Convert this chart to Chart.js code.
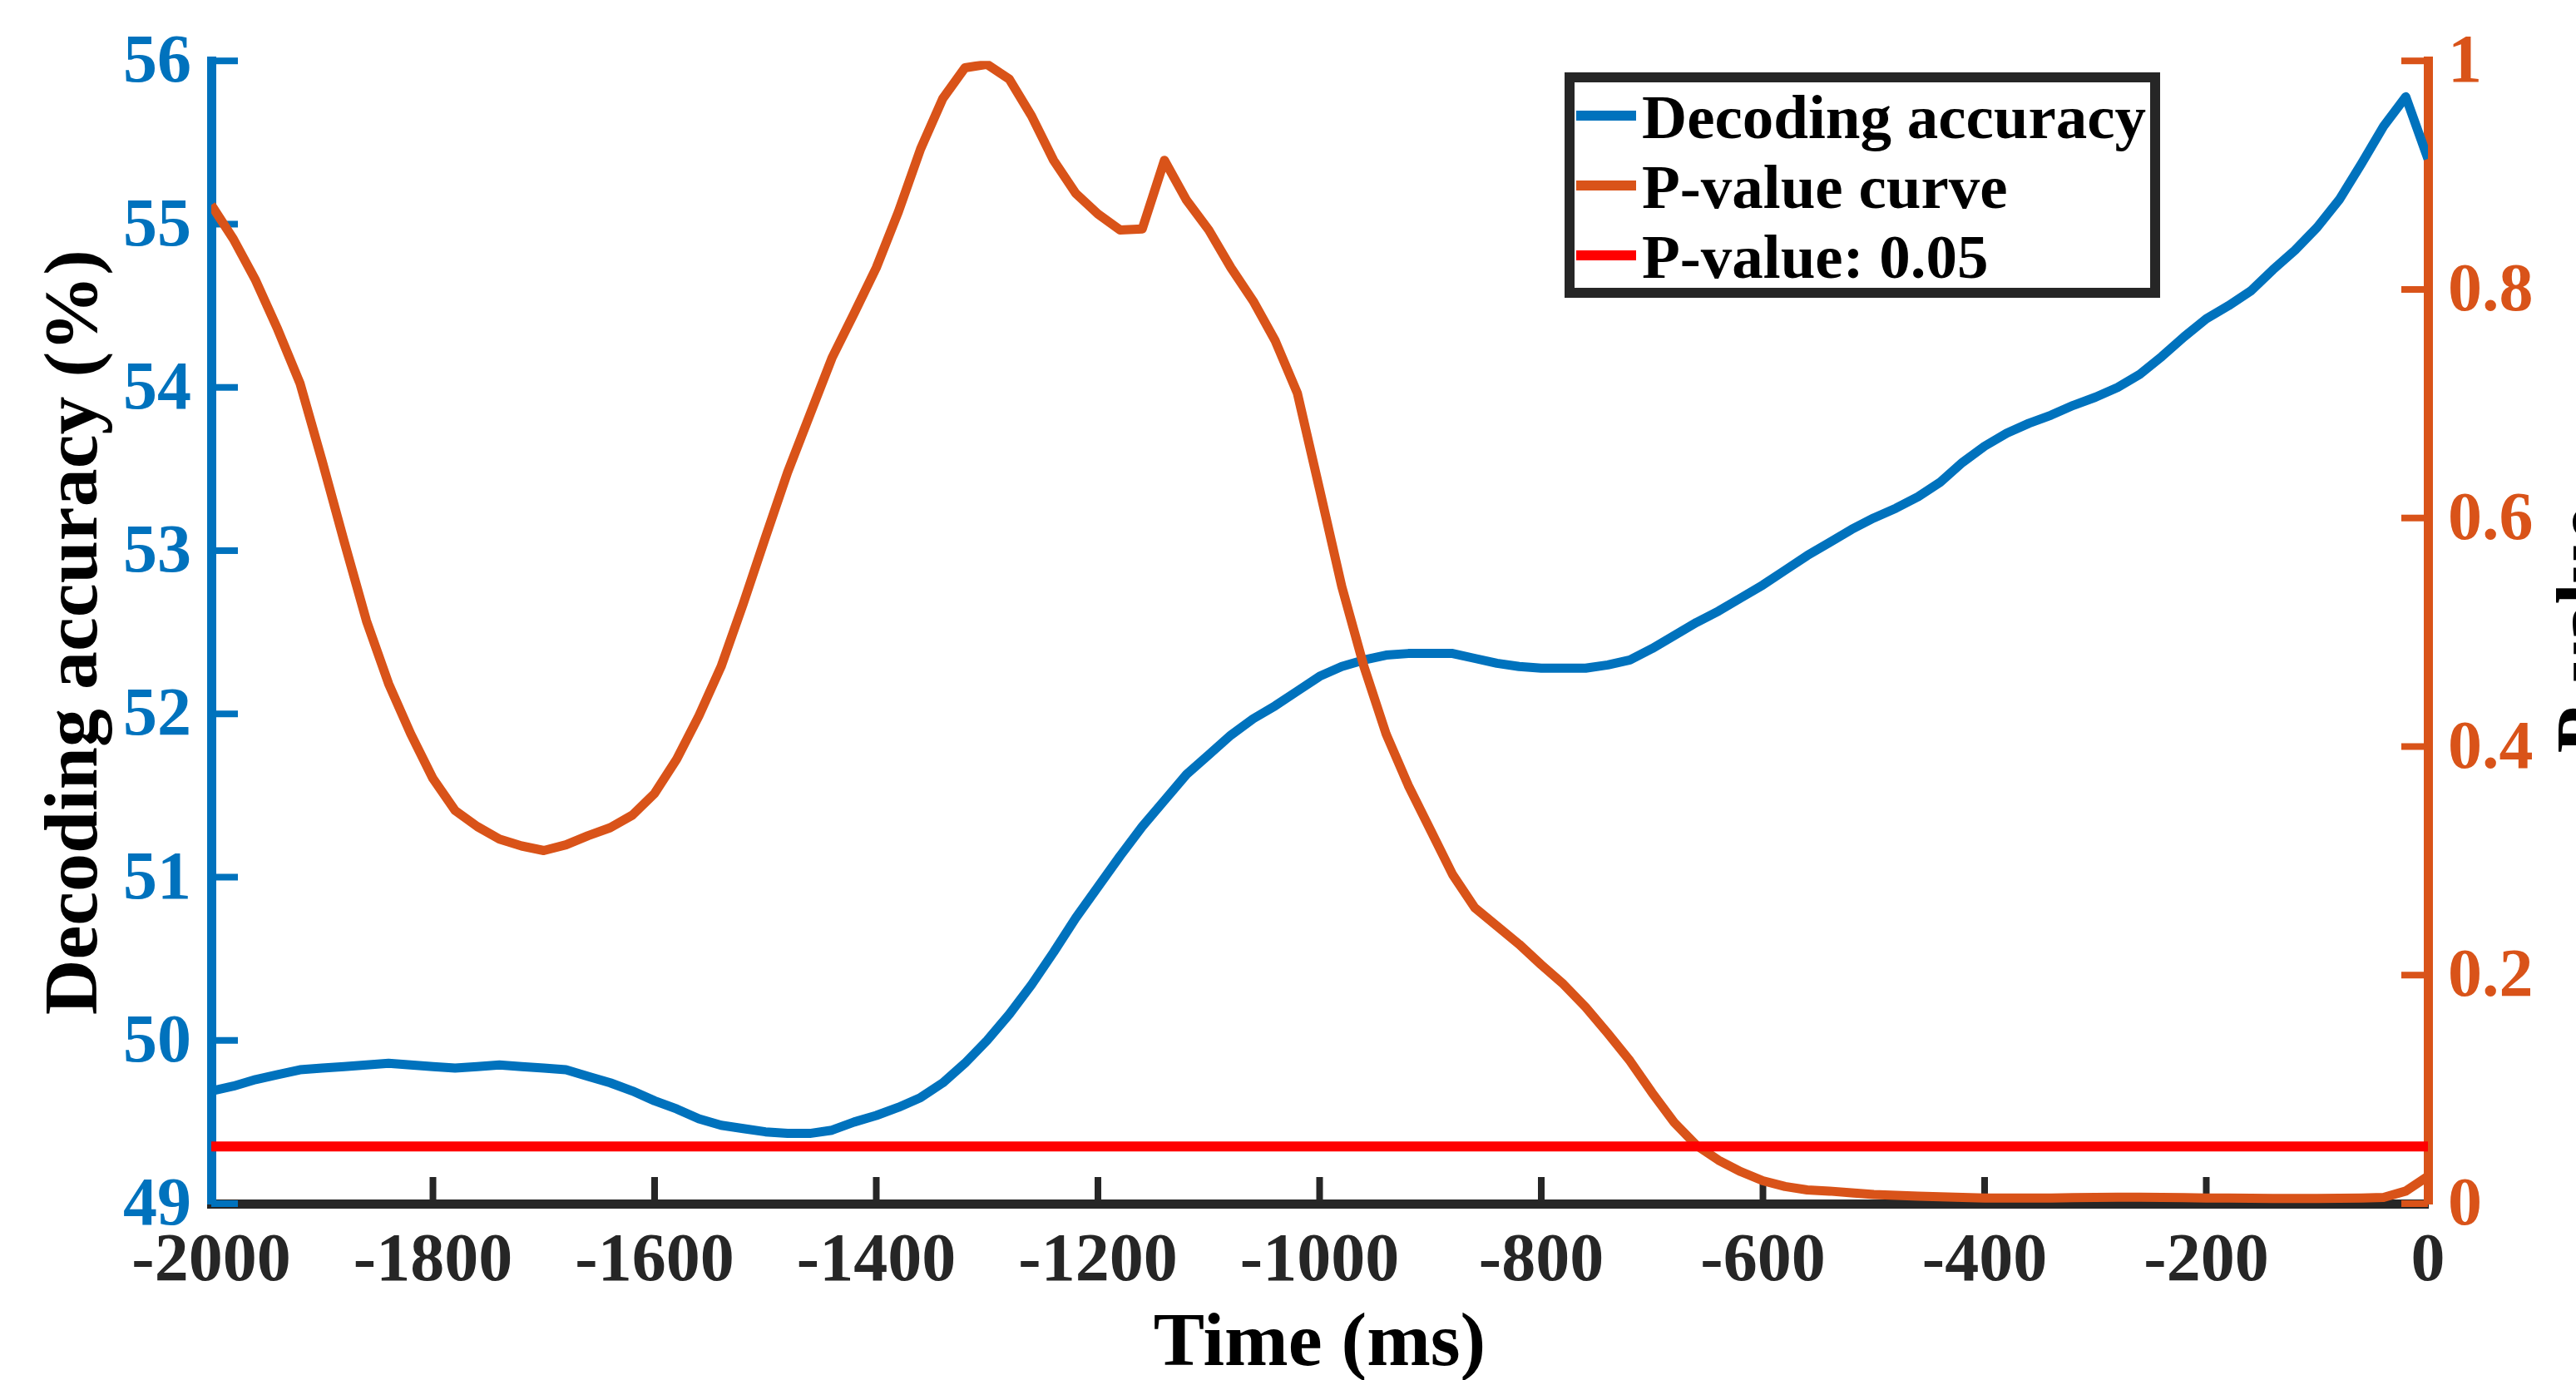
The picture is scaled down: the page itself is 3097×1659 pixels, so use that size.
<!DOCTYPE html>
<html>
<head>
<meta charset="utf-8">
<title>Decoding accuracy</title>
<script src="https://cdn.jsdelivr.net/npm/chart.js@4.4.1/dist/chart.umd.min.js"></script>
<style>
    html, body { margin: 0; padding: 0; background: #fff; overflow: hidden; }
    canvas { display: block; }
</style>
</head>
<body>
<canvas id="myChart" width="3097" height="1659"></canvas>
<script>
// time of each sample (ms)
const times = [
    -2000, -1980, -1960, -1940, -1920, -1900, -1880, -1860, -1840, -1820,
    -1800, -1780, -1760, -1740, -1720, -1700, -1680, -1660, -1640, -1620,
    -1600, -1580, -1560, -1540, -1520, -1500, -1480, -1460, -1440, -1420,
    -1400, -1380, -1360, -1340, -1320, -1300, -1280, -1260, -1240, -1220,
    -1200, -1180, -1160, -1140, -1120, -1100, -1080, -1060, -1040, -1020,
    -1000, -980, -960, -940, -920, -900, -880, -860, -840, -820,
    -800, -780, -760, -740, -720, -700, -680, -660, -640, -620,
    -600, -580, -560, -540, -520, -500, -480, -460, -440, -420,
    -400, -380, -360, -340, -320, -300, -280, -260, -240, -220,
    -200, -180, -160, -140, -120, -100, -80, -60, -40, -20,
    0
]

// decoding accuracy (%) - left axis
const accuracy = [
    49.69, 49.72, 49.76, 49.79, 49.82, 49.83, 49.84, 49.85, 49.86, 49.85,
    49.84, 49.83, 49.84, 49.85, 49.84, 49.83, 49.82, 49.78, 49.74, 49.69,
    49.63, 49.58, 49.52, 49.48, 49.46, 49.44, 49.43, 49.43, 49.45, 49.50,
    49.54, 49.59, 49.65, 49.74, 49.86, 50.00, 50.16, 50.34, 50.54, 50.75,
    50.94, 51.13, 51.31, 51.47, 51.63, 51.75, 51.87, 51.97, 52.05, 52.14,
    52.23, 52.29, 52.33, 52.36, 52.37, 52.37, 52.37, 52.34, 52.31, 52.29,
    52.28, 52.28, 52.28, 52.30, 52.33, 52.40, 52.48, 52.56, 52.63, 52.71,
    52.79, 52.88, 52.97, 53.05, 53.13, 53.20, 53.26, 53.33, 53.42, 53.54,
    53.64, 53.72, 53.78, 53.83, 53.89, 53.94, 54.00, 54.08, 54.19, 54.31,
    54.42, 54.50, 54.59, 54.72, 54.84, 54.98, 55.15, 55.37, 55.60, 55.78,
    55.40
]

// p-value curve - right axis
const pValues = [
    0.874, 0.844, 0.808, 0.765, 0.718, 0.650, 0.579, 0.510, 0.455, 0.411,
    0.372, 0.344, 0.330, 0.319, 0.313, 0.309, 0.314, 0.322, 0.329, 0.340,
    0.359, 0.389, 0.427, 0.470, 0.525, 0.583, 0.640, 0.690, 0.740, 0.779,
    0.819, 0.868, 0.923, 0.967, 0.994, 0.997, 0.984, 0.952, 0.913, 0.884,
    0.866, 0.852, 0.853, 0.913, 0.878, 0.852, 0.819, 0.790, 0.755, 0.709,
    0.625, 0.540, 0.470, 0.411, 0.366, 0.327, 0.288, 0.259, 0.243, 0.227,
    0.209, 0.192, 0.172, 0.149, 0.125, 0.097, 0.071, 0.051, 0.038, 0.028,
    0.020, 0.015, 0.012, 0.011, 0.0094, 0.008, 0.0073, 0.0065, 0.006, 0.0055,
    0.005, 0.005, 0.005, 0.005, 0.0052, 0.0055, 0.0057, 0.0057, 0.0055, 0.0052,
    0.005, 0.005, 0.0048, 0.0046, 0.0046, 0.0046, 0.0047, 0.0049, 0.0055, 0.011,
    0.024
]

// threshold line
const thresholdTimes = [-2000, 0]
const thresholdValues = [0.05, 0.05]

// tick labels
const xTicks = [-2000, -1800, -1600, -1400, -1200, -1000, -800, -600, -400, -200, 0]
const leftTicks = [49, 50, 51, 52, 53, 54, 55, 56]
const rightTicks = [0, 0.2, 0.4, 0.6, 0.8, 1]

const blue = '#0072BD'
const orange = '#D95319'
const red = '#FF0000'
const axisGray = '#262626'
const serif = 'Liberation Serif, Times New Roman, serif'

const tickFont = { family: serif, size: 82, weight: 'bold' }
const titleFont = { family: serif, size: 92, weight: 'bold', lineHeight: 0.8 }

// MATLAB style ticks pointing into the plot
const inwardTicks = {
    id: 'inwardTicks',
    beforeDatasetsDraw(chart, args, opts) {
        const { ctx, chartArea } = chart
        const { x, y, y1 } = chart.scales
        ctx.save()
        ctx.lineWidth = opts.width
        ctx.strokeStyle = axisGray
        x.ticks.forEach((t, i) => {
            if (i == 0 || i == x.ticks.length - 1) return
            const px = x.getPixelForValue(t.value)
            ctx.beginPath()
            ctx.moveTo(px, chartArea.bottom)
            ctx.lineTo(px, chartArea.bottom - opts.length)
            ctx.stroke()
        })
        ctx.strokeStyle = blue
        y.ticks.forEach(t => {
            const py = y.getPixelForValue(t.value)
            ctx.beginPath()
            ctx.moveTo(chartArea.left, py)
            ctx.lineTo(chartArea.left + opts.length, py)
            ctx.stroke()
        })
        ctx.strokeStyle = orange
        y1.ticks.forEach(t => {
            const py = y1.getPixelForValue(t.value)
            ctx.beginPath()
            ctx.moveTo(chartArea.right, py)
            ctx.lineTo(chartArea.right - opts.length, py)
            ctx.stroke()
        })
        ctx.restore()
    }
}

// right y label reads bottom to top like the left one (runs off the figure edge)
const rightTitle = {
    id: 'rightTitle',
    afterDraw(chart, args, opts) {
        const { ctx, chartArea } = chart
        const s = chart.scales.y1
        ctx.save()
        ctx.translate(s.left + opts.offset, (chartArea.top + chartArea.bottom) / 2 - 3)
        ctx.rotate(-Math.PI / 2)
        ctx.font = 'bold 92px ' + serif
        ctx.fillStyle = '#000'
        ctx.textAlign = 'center'
        ctx.textBaseline = 'alphabetic'
        ctx.fillText(opts.text, 0, 0)
        ctx.restore()
    }
}

// boxed legend in the upper right part of the axes
const boxLegend = {
    id: 'boxLegend',
    afterDraw(chart, args, opts) {
        const ctx = chart.ctx
        const b = opts.box
        ctx.save()
        ctx.fillStyle = '#fff'
        ctx.fillRect(b.x, b.y, b.w, b.h)
        ctx.lineWidth = opts.border
        ctx.strokeStyle = axisGray
        ctx.strokeRect(b.x + opts.border / 2, b.y + opts.border / 2, b.w - opts.border, b.h - opts.border)
        ctx.font = 'bold 75px ' + serif
        ctx.fillStyle = '#000'
        ctx.textBaseline = 'alphabetic'
        chart.data.datasets.forEach((ds, i) => {
            const rowY = opts.firstRow + i * opts.rowGap
            ctx.strokeStyle = ds.borderColor
            ctx.lineWidth = 12
            ctx.beginPath()
            ctx.moveTo(opts.lineX, rowY)
            ctx.lineTo(opts.lineX + opts.lineLen, rowY)
            ctx.stroke()
            ctx.fillText(ds.label, opts.textX, rowY + 27)
        })
        ctx.restore()
    }
}

const ctx = document.getElementById('myChart').getContext('2d')

new Chart(ctx, {
    type: 'line',
    data: {
        datasets: [
            {
                label: 'Decoding accuracy',
                data: times.map((t, i) => ({ x: t, y: accuracy[i] })),
                yAxisID: 'y',
                borderColor: blue,
                borderWidth: 11,
                pointRadius: 0,
                tension: 0,
                borderJoinStyle: 'round',
                order: 3
            },
            {
                label: 'P-value curve',
                data: times.map((t, i) => ({ x: t, y: pValues[i] })),
                yAxisID: 'y1',
                borderColor: orange,
                borderWidth: 11,
                pointRadius: 0,
                tension: 0,
                borderJoinStyle: 'round',
                order: 2
            },
            {
                label: 'P-value: 0.05',
                data: thresholdTimes.map((t, i) => ({ x: t, y: thresholdValues[i] })),
                yAxisID: 'y1',
                borderColor: red,
                borderWidth: 12,
                pointRadius: 0,
                order: 1
            }
        ]
    },
    options: {
        responsive: false,
        animation: false,
        devicePixelRatio: 1,
        layout: { padding: { top: 70, left: 0, right: 0, bottom: 0 } },
        plugins: {
            legend: { display: false },
            tooltip: { enabled: false },
            inwardTicks: { width: 8, length: 32 },
            rightTitle: { text: 'P-value', offset: 217 },
            boxLegend: {
                box: { x: 1881, y: 87, w: 716, h: 271 },
                border: 12,
                firstRow: 139,
                rowGap: 84,
                lineX: 1895,
                lineLen: 72,
                textX: 1974
            }
        },
        scales: {
            x: {
                type: 'linear',
                position: 'bottom',
                min: -2000,
                max: 0,
                afterBuildTicks: s => { s.ticks = xTicks.map(v => ({ value: v })) },
                afterFit: s => { s.height = 212 },
                ticks: {
                    autoSkip: false,
                    maxRotation: 0,
                    padding: 22,
                    color: axisGray,
                    font: tickFont,
                    callback: v => String(v)
                },
                grid: { display: false, drawTicks: false },
                border: { display: true, color: axisGray, width: 11 },
                title: {
                    display: true,
                    text: 'Time (ms)',
                    color: '#000',
                    font: titleFont,
                    padding: { top: 0, bottom: 5 }
                }
            },
            y: {
                type: 'linear',
                position: 'left',
                min: 49,
                max: 56,
                afterBuildTicks: s => { s.ticks = leftTicks.map(v => ({ value: v })) },
                afterFit: s => { s.width = 254 },
                ticks: {
                    padding: 24,
                    labelOffset: 4,
                    color: blue,
                    font: tickFont,
                    callback: v => String(v)
                },
                grid: { display: false, drawTicks: false },
                border: { display: true, color: blue, width: 11 },
                title: {
                    display: true,
                    text: 'Decoding accuracy (%)',
                    color: '#000',
                    font: titleFont,
                    padding: { top: 55, bottom: 0 }
                }
            },
            y1: {
                type: 'linear',
                position: 'right',
                min: 0,
                max: 1,
                afterBuildTicks: s => { s.ticks = rightTicks.map(v => ({ value: v })) },
                afterFit: s => { s.width = 178 },
                ticks: {
                    padding: 24,
                    labelOffset: 4,
                    color: orange,
                    font: tickFont,
                    callback: v => String(v)
                },
                grid: { display: false, drawTicks: false },
                border: { display: true, color: orange, width: 11 }
            }
        }
    },
    plugins: [inwardTicks, rightTitle, boxLegend]
})
</script>
</body>
</html>
